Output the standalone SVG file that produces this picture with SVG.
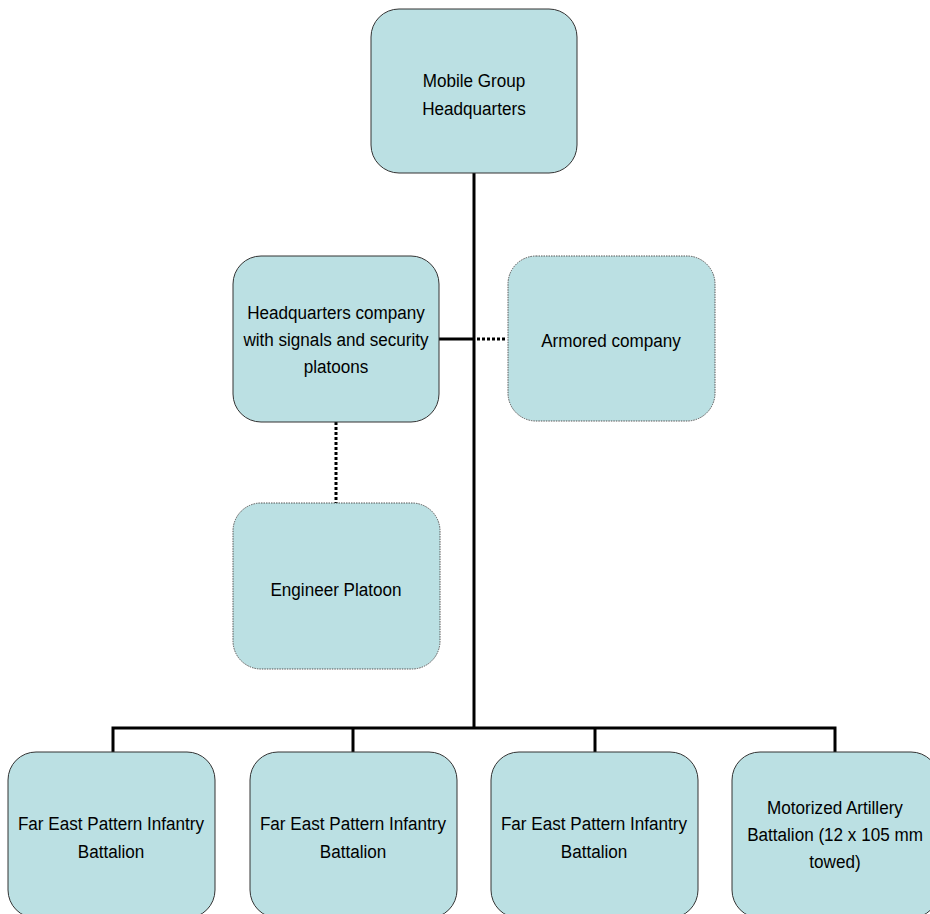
<svg xmlns="http://www.w3.org/2000/svg" width="930" height="914" viewBox="0 0 930 914">
<style>
.box{fill:#BBE0E3;stroke:#333;stroke-width:1}
.dbox{fill:#BBE0E3;stroke:#555;stroke-width:1;stroke-dasharray:1.5 1}
.t{font-family:"Liberation Sans",Arial,sans-serif;font-size:19px;fill:#000;text-anchor:middle}
.c{stroke:#000;stroke-width:3;fill:none}
.d{stroke:#000;stroke-width:3;fill:none;stroke-dasharray:3 2}
</style>
<rect width="930" height="914" fill="#fff"/>
<g id="connectors">
<line class="c" x1="474" y1="173" x2="474" y2="729"/>
<line class="c" x1="439" y1="339" x2="474" y2="339"/>
<line class="d" x1="477" y1="339" x2="507" y2="339"/>
<line class="d" x1="336" y1="422" x2="336" y2="503"/>
<polyline class="c" points="113,752 113,728 835,728 835,752"/>
<line class="c" x1="353" y1="728" x2="353" y2="752"/>
<line class="c" x1="595" y1="728" x2="595" y2="752"/>
</g>
<g id="hq">
<rect class="box" x="371" y="9" width="206" height="164" rx="28"/>
<g transform="translate(474 0) scale(0.9 1)">
<text class="t" x="0" y="87">Mobile Group</text>
<text class="t" x="0" y="115">Headquarters</text>
</g>
</g>
<g id="hqco">
<rect class="box" x="233" y="256" width="206" height="166" rx="28"/>
<g transform="translate(336 0) scale(0.9 1)">
<text class="t" x="0" y="319">Headquarters company</text>
<text class="t" x="0" y="346">with signals and security</text>
<text class="t" x="0" y="373">platoons</text>
</g>
</g>
<g id="armored">
<rect class="dbox" x="508" y="256" width="207" height="165" rx="28"/>
<g transform="translate(611 0) scale(0.9 1)">
<text class="t" x="0" y="347">Armored company</text>
</g>
</g>
<g id="engineer">
<rect class="dbox" x="233" y="503" width="207" height="166" rx="28"/>
<g transform="translate(336 0) scale(0.9 1)">
<text class="t" x="0" y="596">Engineer Platoon</text>
</g>
</g>
<g id="inf1">
<rect class="box" x="8" y="752" width="207" height="166" rx="28"/>
<g transform="translate(111 0) scale(0.9 1)">
<text class="t" x="0" y="830">Far East Pattern Infantry</text>
<text class="t" x="0" y="858">Battalion</text>
</g>
</g>
<g id="inf2">
<rect class="box" x="250" y="752" width="207" height="166" rx="28"/>
<g transform="translate(353 0) scale(0.9 1)">
<text class="t" x="0" y="830">Far East Pattern Infantry</text>
<text class="t" x="0" y="858">Battalion</text>
</g>
</g>
<g id="inf3">
<rect class="box" x="491" y="752" width="207" height="166" rx="28"/>
<g transform="translate(594 0) scale(0.9 1)">
<text class="t" x="0" y="830">Far East Pattern Infantry</text>
<text class="t" x="0" y="858">Battalion</text>
</g>
</g>
<g id="artillery">
<rect class="box" x="732" y="752" width="207" height="166" rx="28"/>
<g transform="translate(835 0) scale(0.9 1)">
<text class="t" x="0" y="814">Motorized Artillery</text>
<text class="t" x="0" y="841">Battalion (12 x 105 mm</text>
<text class="t" x="0" y="868">towed)</text>
</g>
</g>
</svg>
